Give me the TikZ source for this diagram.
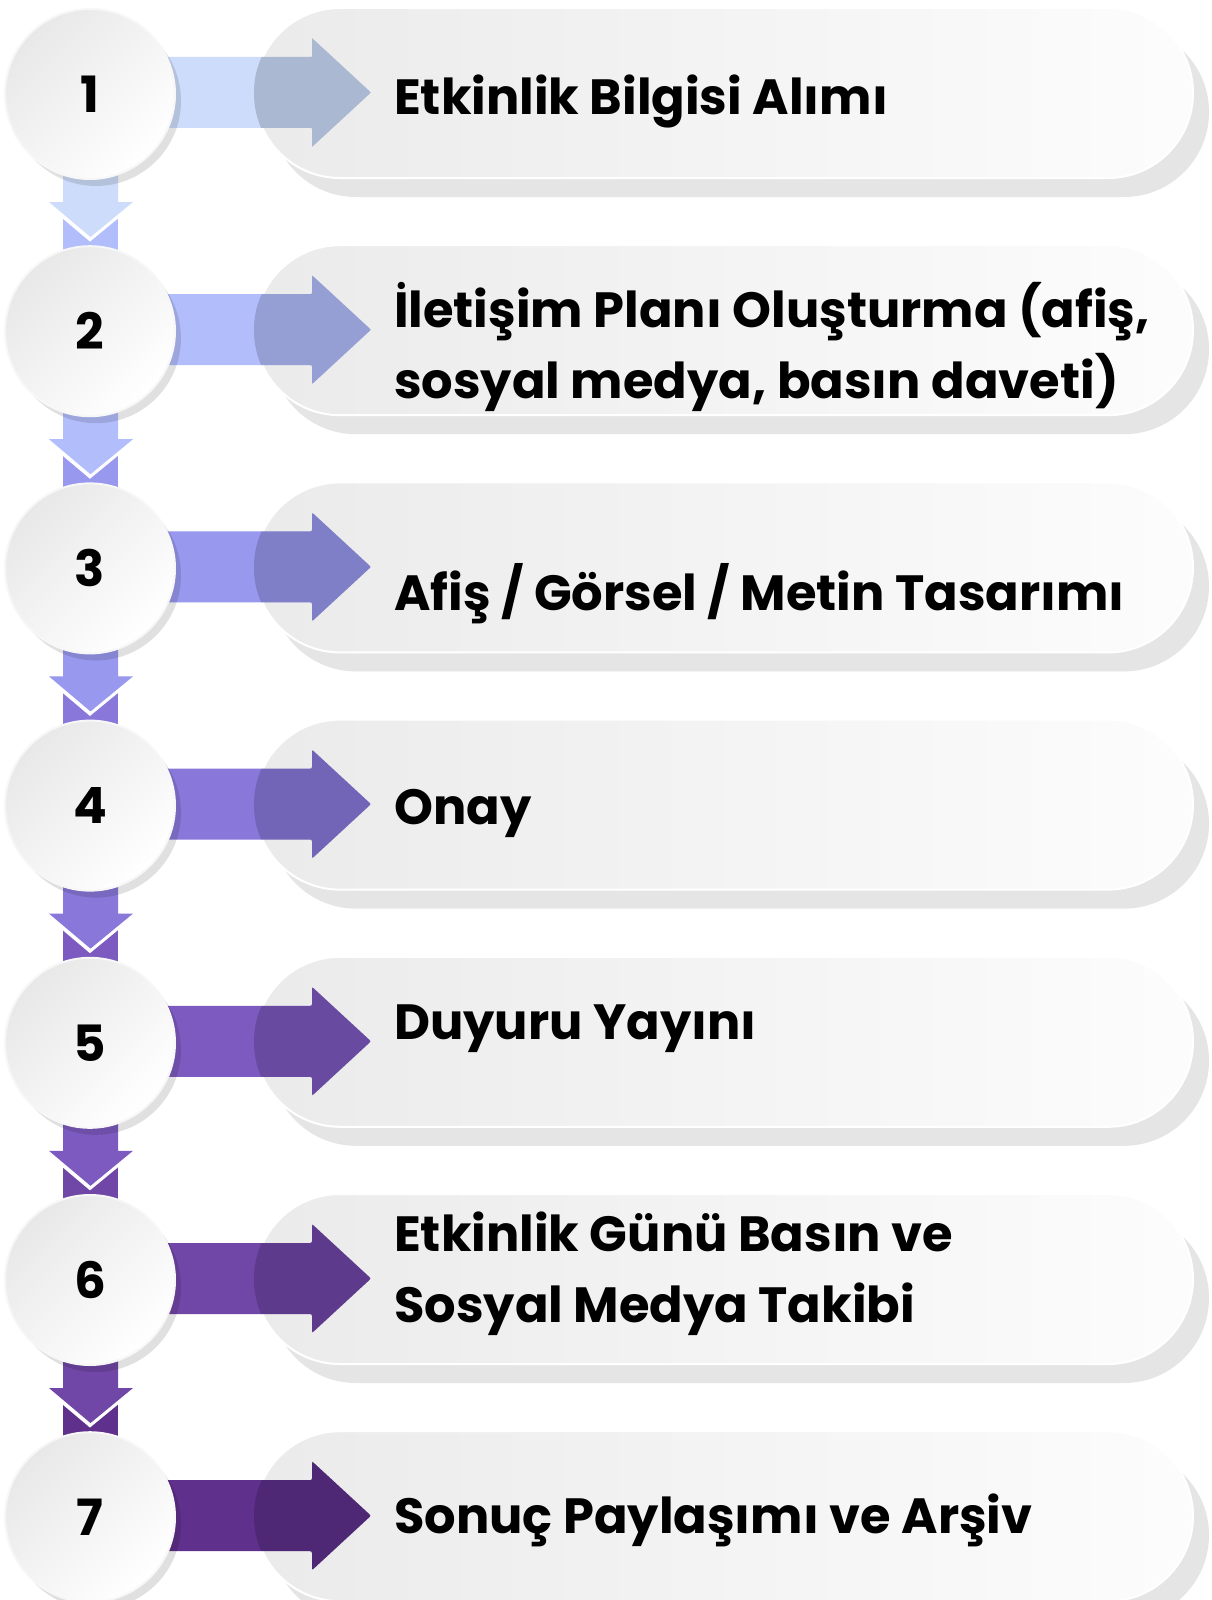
\documentclass[tikz,border=0pt]{standalone}
\usepackage{fontspec}
\setmainfont{Poppins}
\usepackage{tikz}
\usetikzlibrary{calc,shadows,shapes.misc}

\definecolor{st1}{RGB}{204,220,250}
\definecolor{st2}{RGB}{178,190,252}
\definecolor{st3}{RGB}{152,152,238}
\definecolor{st4}{RGB}{137,120,218}
\definecolor{st5}{RGB}{125,90,192}
\definecolor{st6}{RGB}{112,70,166}
\definecolor{st7}{RGB}{95,48,140}

\newcommand\flowarrow[1]{(#1) ++(60,-37) -- ++(162,0) -- ++(0,-19) -- ++(59,54.5) -- ++(-59,54.5) -- ++(0,-19) -- ++(-162,0) -- cycle}

\tikzset{
  pill/.style={rounded rectangle, minimum width=938pt, minimum height=170pt, inner sep=0pt,
    left color=black!8, right color=black!1, draw=white, line width=2pt,
    drop shadow={shadow xshift=16pt, shadow yshift=-19pt, fill=black!10, opacity=1}},
  num/.style={circle, minimum size=170pt, inner sep=0pt,
    top color=black!9, bottom color=white, shading angle=45, draw=black!3, line width=2pt,
    font=\fontsize{50}{60}\selectfont\bfseries,
    drop shadow={shadow xshift=6pt, shadow yshift=-7pt, fill=black, opacity=0.12}},
  steptext/.style={anchor=base west, align=left, inner sep=0pt,
    font=\fontsize{49.5}{71}\selectfont\bfseries}
}

\begin{document}
\begin{tikzpicture}[x=1pt, y=-1pt]
\useasboundingbox[fill=white] (0,0) rectangle (1212,1600);

\foreach \i in {1,...,7}{
  \pgfmathsetmacro\ry{94+237.2*(\i-1)}
  \coordinate (m\i) at (90,\ry);
}

\foreach \i in {1,...,7}
  \node[pill] (p\i) at ($(m\i)+(634,-1)$) {};

\foreach \i in {1,...,7}{
  \fill[st\i, rounded corners=2pt] \flowarrow{m\i};
  \begin{scope}
    \clip[rounded corners=84pt] ($(p\i.west)+(0,-85)$) rectangle ($(p\i.east)+(0,85)$);
    \fill[black, opacity=0.16] \flowarrow{m\i};
  \end{scope}
}

\foreach \i [evaluate=\i as \j using int(\i+1)] in {1,...,6}{
  \fill[st\j] (m\i) ++(-27,116) rectangle ++(55,121);
  \draw[white, line width=7pt] (m\i) ++(-41.5,108) -- ++(41.5,35) -- ++(42.5,-35);
  \fill[st\i] (m\i) ++(-27,0) -- ++(0,108) -- ++(-14,0) -- ++(41.5,35) -- ++(42.5,-35) -- ++(-15,0) -- ++(0,-108) -- cycle;
}

\foreach \i in {1,...,7}
  \node[num] (n\i) at (m\i) {\i};

\node[steptext] (t1) at (394,115) {Etkinlik Bilgisi Alımı};
\node[steptext] (t2) at (394,398) {İletişim Planı Oluşturma (afiş,\\sosyal medya, basın daveti)};
\node[steptext] (t3) at (394,610) {Afiş / Görsel / Metin Tasarımı};
\node[steptext] (t4) at (394,824.5) {Onay};
\node[steptext] (t5) at (394,1039) {Duyuru Yayını};
\node[steptext] (t6) at (394,1322) {Etkinlik Günü Basın ve\\Sosyal Medya Takibi};
\node[steptext] (t7) at (394,1533) {Sonuç Paylaşımı ve Arşiv};
\end{tikzpicture}
\end{document}
